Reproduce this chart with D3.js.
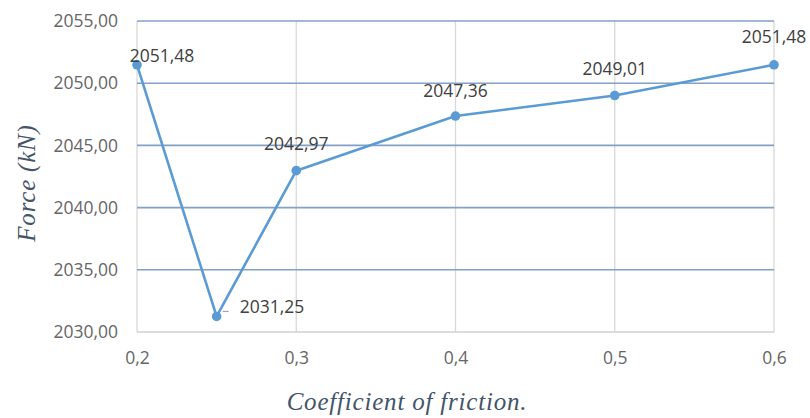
<!DOCTYPE html>
<html>
<head>
<meta charset="utf-8">
<script src="https://cdn.jsdelivr.net/npm/d3@7"></script>
<style>
  html, body { margin: 0; padding: 0; background: #ffffff; }
  svg { display: block; }
</style>
</head>
<body>
<svg id="chart" width="810" height="418"></svg>
<script>
// Friction coefficient vs. resulting force
const coefficients = [0.2, 0.25, 0.3, 0.4, 0.5, 0.6];
const forces = [2051.48, 2031.25, 2042.97, 2047.36, 2049.01, 2051.48];
const xTicks = [0.2, 0.3, 0.4, 0.5, 0.6];
const yTicks = [2030, 2035, 2040, 2045, 2050, 2055];

const locale = d3.formatLocale({ decimal: ",", thousands: "", grouping: [3], currency: ["", ""] });
const fmtY = locale.format(".2f");
const fmtX = locale.format(".1f");

const svg = d3.select("#chart");
const m = { left: 137, right: 36, top: 21, bottom: 86 };
const W = 810, H = 418;
const tickFont = "'Open Sans', sans-serif";
const tickSize = 17.5;
const titleFont = "'Liberation Serif', 'Times New Roman', serif";

const x = d3.scaleLinear().domain([0.2, 0.6]).range([m.left, W - m.right]);
const y = d3.scaleLinear().domain([2030, 2055]).range([H - m.bottom, m.top]);

const data = coefficients.map((c, i) => ({ c, f: forces[i] }));

// vertical grid
svg.append("g")
  .selectAll("line")
  .data(xTicks)
  .join("line")
  .attr("x1", d => x(d)).attr("x2", d => x(d))
  .attr("y1", y(2055)).attr("y2", y(2030))
  .attr("stroke", "#d9d9d9").attr("stroke-width", 1.3);

// horizontal grid
svg.append("g")
  .selectAll("line")
  .data(yTicks.filter(d => d > 2030))
  .join("line")
  .attr("x1", x(0.2)).attr("x2", x(0.6))
  .attr("y1", d => y(d)).attr("y2", d => y(d))
  .attr("stroke", "#849fc8").attr("stroke-width", 1.6);

// bottom axis baseline
svg.append("line")
  .attr("x1", x(0.2)).attr("x2", x(0.6))
  .attr("y1", y(2030)).attr("y2", y(2030))
  .attr("stroke", "#d0d0d0").attr("stroke-width", 1.3);

// y axis ticks
const yAxis = d3.axisLeft(y).tickValues(yTicks).tickFormat(fmtY).tickSize(0).tickPadding(19);
svg.append("g")
  .attr("transform", `translate(${m.left},0)`)
  .call(yAxis)
  .call(g => g.select(".domain").remove())
  .call(g => g.selectAll("text")
    .attr("fill", "#666666")
    .attr("font-family", tickFont)
    .attr("font-size", tickSize));

// x axis ticks
const xAxis = d3.axisBottom(x).tickValues(xTicks).tickFormat(fmtX).tickSize(0).tickPadding(20);
svg.append("g")
  .attr("transform", `translate(0,${y(2030)})`)
  .call(xAxis)
  .call(g => g.select(".domain").remove())
  .call(g => g.selectAll("text")
    .attr("fill", "#666666")
    .attr("font-family", tickFont)
    .attr("font-size", tickSize));

// line
const line = d3.line().x(d => x(d.c)).y(d => y(d.f));
svg.append("path")
  .datum(data)
  .attr("d", line)
  .attr("fill", "none")
  .attr("stroke", "#5b9bd5")
  .attr("stroke-width", 2.6)
  .attr("stroke-linejoin", "round");

// markers
svg.append("g")
  .selectAll("circle")
  .data(data)
  .join("circle")
  .attr("cx", d => x(d.c)).attr("cy", d => y(d.f))
  .attr("r", 4.8)
  .attr("fill", "#5b9bd5");

// data labels
const labelOffsets = [
  { dx: 25, dy: -10, anchor: "middle" },
  { dx: 23, dy: -10, anchor: "start" },
  { dx: 0, dy: -27.5, anchor: "middle" },
  { dx: 0, dy: -26.5, anchor: "middle" },
  { dx: 0, dy: -27.5, anchor: "middle" },
  { dx: 0, dy: -29, anchor: "middle" }
];
svg.append("g")
  .selectAll("text")
  .data(data)
  .join("text")
  .attr("x", (d, i) => x(d.c) + labelOffsets[i].dx)
  .attr("y", (d, i) => y(d.f) + labelOffsets[i].dy)
  .attr("text-anchor", (d, i) => labelOffsets[i].anchor)
  .attr("dominant-baseline", "central")
  .attr("fill", "#404040")
  .attr("font-family", tickFont)
  .attr("font-size", tickSize)
  .text(d => fmtY(d.f));

// leader for the low point label
const low = data[1];
svg.append("line")
  .attr("x1", x(low.c) + 6).attr("x2", x(low.c) + 12)
  .attr("y1", y(low.f) - 5).attr("y2", y(low.f) - 5)
  .attr("stroke", "#a6a6a6").attr("stroke-width", 1.2);

// axis titles
svg.append("text")
  .attr("x", 407)
  .attr("y", 410)
  .attr("text-anchor", "middle")
  .attr("fill", "#44546a")
  .attr("font-family", titleFont)
  .attr("font-style", "italic")
  .attr("font-size", 25)
  .attr("letter-spacing", 0.8)
  .text("Coefficient of friction.");

svg.append("text")
  .attr("transform", `translate(26,183) rotate(-90)`)
  .attr("text-anchor", "middle")
  .attr("dominant-baseline", "central")
  .attr("fill", "#44546a")
  .attr("font-family", titleFont)
  .attr("font-style", "italic")
  .attr("font-size", 25)
  .attr("letter-spacing", 0.8)
  .text("Force (kN)");
</script>
</body>
</html>
